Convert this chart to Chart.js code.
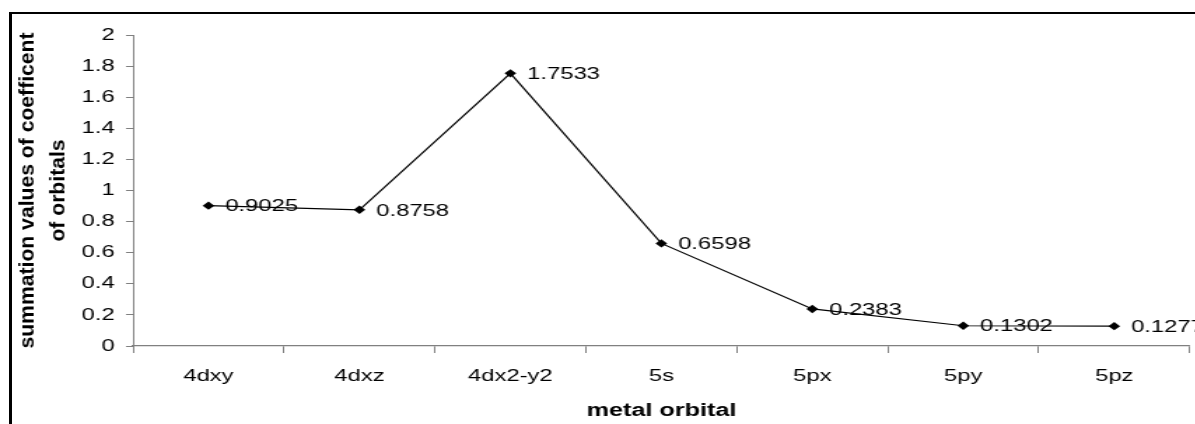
<!DOCTYPE html>
<html>
<head>
<meta charset="utf-8">
<script src="https://cdn.jsdelivr.net/npm/chart.js@4"></script>
<style>
  html, body { margin: 0; padding: 0; background: #fff; }
  #wrap { position: relative; width: 1195px; height: 424px; overflow: hidden; background: #fff; }
  #frame { position: absolute; left: 9px; top: 12px; width: 1300px; height: 600px; border-style: solid; border-color: #000; border-width: 2px 2px 2px 3px; box-sizing: border-box; }
  #stretch { position: absolute; left: 0; top: 0; width: 854px; height: 424px; transform: scaleX(1.4); transform-origin: 0 0; }
</style>
</head>
<body>
<div id="wrap">
  <div id="frame"></div>
  <div id="stretch"><canvas id="c" width="854" height="424"></canvas></div>
</div>
<script>
const categories = ['4dxy', '4dxz', '4dx2-y2', '5s', '5px', '5py', '5pz'];
const values = [0.9025, 0.8758, 1.7533, 0.6598, 0.2383, 0.1302, 0.1277];
const valueLabels = ['0.9025', '0.8758', '1.7533', '0.6598', '0.2383', '0.1302', '0.1277'];
const yTickLabels = ['0', '0.2', '0.4', '0.6', '0.8', '1', '1.2', '1.4', '1.6', '1.8', '2'];
const xTitle = 'metal orbital';
const yTitle = ['summation values of coefficent', 'of orbitals'];

const FONT = "Arial, 'Liberation Sans', sans-serif";

const dataLabelPlugin = {
  id: 'dataLabels',
  afterDatasetsDraw(chart) {
    const ctx = chart.ctx;
    const meta = chart.getDatasetMeta(0);
    ctx.save();
    ctx.font = '17px ' + FONT;
    ctx.fillStyle = '#000';
    ctx.textAlign = 'left';
    ctx.textBaseline = 'middle';
    meta.data.forEach((pt, i) => {
      ctx.fillText(valueLabels[i], pt.x + 12, pt.y + 1);
    });
    ctx.restore();
  }
};

// y-axis title, drawn rotated and elongated along its length like the reference
const yTitlePlugin = {
  id: 'yTitle',
  afterDraw(chart) {
    const ctx = chart.ctx;
    const area = chart.chartArea;
    const cy = (area.top + area.bottom) / 2;
    const baselines = [area.left - 71.5, area.left - 48.8];
    ctx.save();
    ctx.font = 'bold 15px ' + FONT;
    ctx.fillStyle = '#000';
    ctx.textAlign = 'center';
    ctx.textBaseline = 'alphabetic';
    yTitle.forEach((line, i) => {
      ctx.save();
      ctx.translate(baselines[i], cy);
      ctx.rotate(-Math.PI / 2);
      ctx.scale(1.41, 1);
      ctx.fillText(line, 0, 0);
      ctx.restore();
    });
    ctx.restore();
  }
};

new Chart(document.getElementById('c'), {
  type: 'line',
  data: {
    labels: categories,
    datasets: [{
      data: values,
      borderColor: '#000',
      borderWidth: 1.2,
      backgroundColor: '#000',
      pointStyle: 'rectRot',
      pointRadius: 4.2,
      pointBackgroundColor: '#000',
      pointBorderColor: '#000',
      pointBorderWidth: 0,
      tension: 0,
      clip: false
    }]
  },
  options: {
    responsive: false,
    animation: false,
    devicePixelRatio: 1,
    layout: { padding: { left: 8, right: 4, top: 35, bottom: 0 } },
    plugins: { legend: { display: false }, tooltip: { enabled: false } },
    scales: {
      x: {
        type: 'category',
        offset: true,
        grid: { offset: true, drawOnChartArea: false, color: '#808080', tickLength: 7, lineWidth: 1 },
        border: { display: true, color: '#808080', width: 1.3 },
        ticks: { color: '#000', font: { family: FONT, size: 17 }, padding: 13, maxRotation: 0, autoSkip: false },
        title: { display: true, text: xTitle, color: '#000', font: { family: FONT, size: 18, weight: 'bold' }, padding: { top: 2, bottom: 2 } },
        afterFit(scale) { scale.height = 78; }
      },
      y: {
        min: 0,
        max: 2,
        grid: { drawOnChartArea: false, color: '#808080', tickLength: 5, lineWidth: 1 },
        border: { display: true, color: '#808080', width: 1 },
        ticks: {
          stepSize: 0.2,
          color: '#000',
          font: { family: FONT, size: 17 },
          padding: 8,
          callback: (v, i) => yTickLabels[i]
        },
        title: { display: false },
        afterFit(scale) { scale.width = 87; }
      }
    }
  },
  plugins: [dataLabelPlugin, yTitlePlugin]
});
</script>
</body>
</html>
